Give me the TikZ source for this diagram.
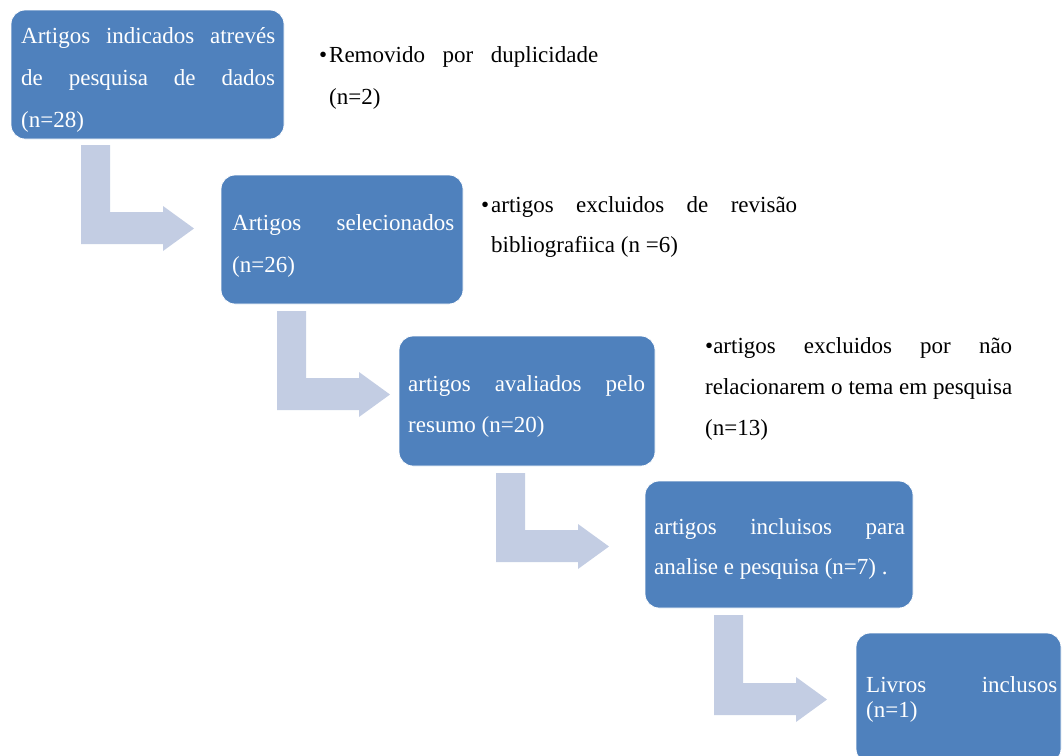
\documentclass[tikz,border=0pt]{standalone}
\usepackage{fontspec}
\setmainfont{Liberation Serif}
\newcommand{\jl}[2]{\makebox[#1pt][s]{#2}}
\definecolor{boxblue}{HTML}{4F81BD}
\definecolor{arrowgray}{HTML}{C3CDE3}
\tikzset{
  stage/.style={draw=white, line width=0.8pt, fill=boxblue, rounded corners=14pt, inner sep=0pt},
  txt/.style={anchor=north west, inner sep=0pt, align=left, font=\fontsize{23}{#1}\selectfont},
  intxt/.style={txt=#1, text=white},
  notetxt/.style={txt=#1, text=black},
  arrowfill/.style={fill=arrowgray},
}
% bent arrow: left x, top y, y of top of horizontal bar
\newcommand{\bentarr}[3]{%
  \fill[arrowfill] (#1,#2) -- ++(29,0) -- (#1+29,#3) -- (#1+82,#3) -- (#1+82,#3-6)
    -- (#1+113,#3+16.5) -- (#1+82,#3+39) -- (#1+82,#3+32) -- (#1,#3+32) -- cycle;}
\begin{document}
\begin{tikzpicture}[x=1pt,y=-1pt]
\useasboundingbox (0,0) rectangle (1062,755);
\clip (0,0) rectangle (1062,755);

% arrows
\bentarr{81}{145}{212}
\bentarr{277}{311}{378}
\bentarr{496}{473}{530}
\bentarr{714}{615}{683}

% boxes
\node[stage, minimum width=273pt, minimum height=129pt] (b1) at (147.5,74.5) {};
\node[stage, minimum width=242pt, minimum height=129pt] (b2) at (342,239.5) {};
\node[stage, minimum width=256pt, minimum height=130pt] (b3) at (527,401) {};
\node[stage, minimum width=268pt, minimum height=127pt] (b4) at (779,544.5) {};
\node[stage, minimum width=205pt, minimum height=130pt] (b5) at (958.5,698) {};

% box texts
\node[intxt=42] (t1) at (21,23) {\rule{0pt}{20pt}\jl{254}{Artigos indicados atrevés}\\\jl{254}{de pesquisa de dados}\\(n=28)};
\node[intxt=42] (t2) at (232,210) {\rule{0pt}{20pt}\jl{222}{Artigos selecionados}\\(n=26)};
\node[intxt=41] (t3) at (408,371) {\rule{0pt}{20pt}\jl{237}{artigos avaliados pelo}\\resumo (n=20)};
\node[intxt=40] (t4) at (654,514) {\rule{0pt}{20pt}\jl{251}{artigos incluisos para}\\analise e pesquisa (n=7) .};
\node[intxt=25] (t5) at (866,672) {\rule{0pt}{20pt}\jl{191}{Livros inclusos}\\(n=1)};

% side notes
\node[notetxt=42] (n1) at (329,42) {\rule{0pt}{20pt}\llap{•\hspace{2pt}}\jl{269}{Removido por duplicidade}\\(n=2)};
\node[notetxt=40] (n2) at (491,192) {\rule{0pt}{20pt}\llap{•\hspace{2pt}}\jl{306}{artigos excluidos de revisão}\\bibliografiica (n =6)};
\node[notetxt=41] (n3) at (705,333) {\rule{0pt}{20pt}\jl{307}{•artigos excluidos por não}\\\jl{307}{relacionarem o tema em pesquisa}\\(n=13)};
\end{tikzpicture}
\end{document}
